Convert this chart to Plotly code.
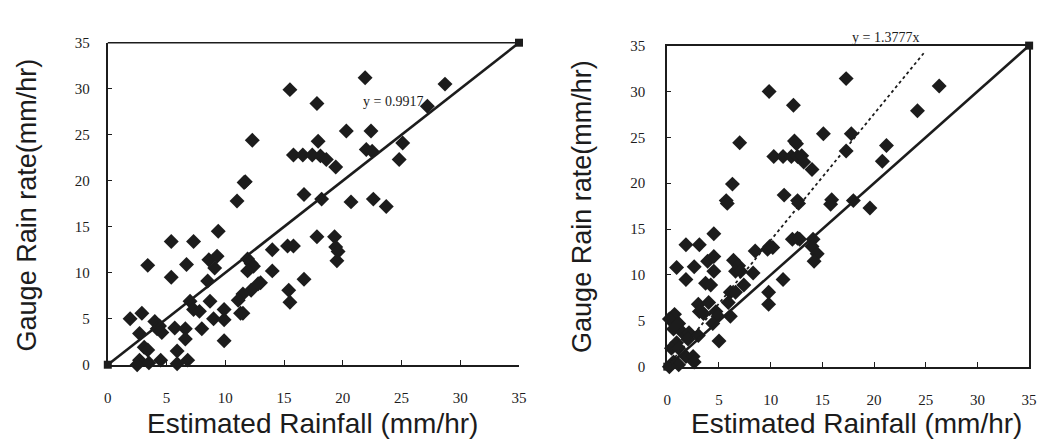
import plotly.graph_objects as go

# ---------------- data ----------------
left_x = [21.9, 15.5, 28.7, 17.8, 27.2, 12.3, 20.3, 22.4, 17.9, 22.0, 22.5, 25.1, 24.8,
          15.8, 16.6, 17.4, 18.1, 18.6, 19.4, 11.7, 16.7, 18.2, 20.7, 22.6, 23.7,
          17.8, 19.3, 19.4, 19.6, 19.5, 15.3, 15.8, 14.0, 14.0, 16.7, 15.4, 15.5,
          12.2, 13.0, 12.2, 11.5, 11.5, 11.0, 11.6, 9.4, 3.4, 5.4, 7.3, 5.4, 6.7,
          8.6, 9.3, 9.1, 8.5, 11.9, 12.4, 11.9, 12.8, 11.1, 11.3, 7.0, 7.3, 7.8,
          8.7, 8.0, 9.0, 9.9, 9.9, 9.9, 1.9, 2.9, 4.0, 4.4, 4.6, 4.2, 5.7, 6.6,
          6.6, 2.7, 3.1, 3.4, 2.7, 3.5, 2.5, 4.5, 5.9, 5.9, 6.8]
left_y = [31.2, 29.9, 30.5, 28.4, 28.1, 24.4, 25.4, 25.4, 24.3, 23.4, 23.2, 24.1, 22.3,
          22.8, 22.8, 22.8, 22.7, 22.3, 21.5, 19.9, 18.5, 18.0, 17.7, 18.0, 17.2,
          13.9, 13.9, 12.8, 12.3, 11.3, 12.9, 12.9, 12.5, 10.2, 9.3, 8.1, 6.8,
          11.0, 8.9, 8.1, 7.7, 5.6, 17.8, 19.8, 14.5, 10.8, 13.4, 13.4, 9.5, 10.9,
          11.4, 11.8, 10.5, 9.1, 11.5, 10.7, 10.2, 8.8, 7.0, 5.6, 6.9, 6.0, 5.8,
          6.9, 3.9, 5.0, 4.9, 6.0, 2.6, 5.0, 5.6, 4.7, 4.2, 3.5, 3.9, 4.0, 3.9,
          2.8, 3.4, 1.9, 1.6, 0.5, 0.2, 0.0, 0.5, 1.5, 0.1, 0.5]

right_x = [9.85, 12.2, 7.0, 12.5, 10.3, 11.2, 12.0, 12.6, 13.2, 14.0, 6.3, 11.3, 5.7,
           12.6, 17.3, 26.3, 24.2, 15.1, 17.8, 17.3, 21.2, 20.8, 12.3, 13.0, 15.9,
           12.7, 15.8, 18.0, 19.6, 12.6, 14.1, 14.0, 14.5, 14.2, 5.8, 4.5, 1.8, 3.1,
           0.9, 2.6, 1.8, 3.9, 4.5, 4.5, 3.7, 4.2, 6.4, 6.9, 6.6, 7.1, 6.1, 6.6,
           7.4, 5.9, 6.1, 8.3, 8.5, 9.7, 9.9, 10.2, 11.2, 9.8, 9.8, 12.1, 12.8,
           3.0, 4.0, 3.1, 3.5, 4.7, 4.9, 4.4, 5.0, 0.7, 0.2, 1.1, 0.6, 1.5, 2.1,
           2.0, 0.9, 0.4, 1.1, 1.8, 2.5, 0.6, 1.1, 2.6, 0.2, 3.0]
right_y = [30.0, 28.5, 24.4, 24.3, 22.9, 22.9, 22.9, 22.9, 22.3, 21.5, 19.9, 18.7, 18.1,
           18.1, 31.4, 30.6, 27.9, 25.4, 25.4, 23.5, 24.1, 22.4, 24.6, 23.0, 18.2,
           17.8, 17.7, 18.1, 17.3, 14.0, 13.9, 13.1, 12.3, 11.5, 17.8, 14.5, 13.3,
           13.3, 10.8, 10.9, 9.5, 11.5, 12.0, 10.4, 9.1, 8.9, 11.6, 11.0, 10.4, 10.4,
           8.1, 8.1, 8.9, 7.0, 5.5, 10.2, 12.6, 12.8, 13.1, 13.0, 9.5, 8.1, 6.8,
           13.9, 13.9, 6.8, 7.0, 6.0, 5.8, 6.0, 5.5, 4.7, 2.8, 5.7, 5.2, 4.7, 4.1,
           3.7, 3.7, 3.0, 2.6, 2.0, 2.0, 1.1, 1.1, 0.5, 0.2, 0.5, 0.0, 3.4]

ref_x = [0, 35]
ref_y = [0, 35]
slope_right = 1.3777
dotted_x = [0, 24.8]
dotted_y = [slope_right * v for v in dotted_x]

tick_vals = [0, 5, 10, 15, 20, 25, 30, 35]
left_eq = "y = 0.9917"
right_eq = "y = 1.3777x"
x_title = "Estimated Rainfall (mm/hr)"
y_title = "Gauge Rain rate(mm/hr)"

# ---------------- figure ----------------
W, H = 1047, 446
INK = "#1c1c1c"
fig = go.Figure()

diamond = dict(symbol="diamond", size=11.5, color=INK, line=dict(width=0))

fig.add_trace(go.Scatter(x=left_x, y=left_y, mode="markers", marker=diamond,
                         xaxis="x", yaxis="y", cliponaxis=False, showlegend=False))
fig.add_trace(go.Scatter(x=ref_x, y=ref_y, mode="lines+markers",
                         line=dict(color=INK, width=2.6),
                         marker=dict(symbol="square", size=8, color=INK),
                         xaxis="x", yaxis="y", cliponaxis=False, showlegend=False))

fig.add_trace(go.Scatter(x=right_x, y=right_y, mode="markers", marker=diamond,
                         xaxis="x2", yaxis="y2", cliponaxis=False, showlegend=False))
fig.add_trace(go.Scatter(x=dotted_x, y=dotted_y, mode="lines",
                         line=dict(color=INK, width=1.8, dash="dot"),
                         xaxis="x2", yaxis="y2", cliponaxis=False, showlegend=False))
fig.add_trace(go.Scatter(x=ref_x, y=ref_y, mode="lines+markers",
                         line=dict(color=INK, width=2.6),
                         marker=dict(symbol="square", size=8, color=INK),
                         xaxis="x2", yaxis="y2", cliponaxis=False, showlegend=False))

tickfont = dict(family="Liberation Serif", size=15, color=INK)


def xaxis(domain, mirror):
    return dict(domain=domain, range=[0, 35], tickvals=tick_vals, ticks="inside",
                ticklen=5, tickwidth=1, tickcolor=INK, showline=True, linecolor=INK,
                linewidth=2, mirror=mirror, showgrid=False, zeroline=False,
                tickfont=tickfont, ticklabelstandoff=18, fixedrange=True)


def yaxis(domain, anchor, mirror, standoff):
    return dict(domain=domain, range=[0, 35], tickvals=tick_vals, ticks="inside",
                ticklen=4, tickwidth=1, tickcolor=INK, showline=True, linecolor=INK,
                linewidth=2, mirror=mirror, showgrid=False, zeroline=False,
                tickfont=tickfont, ticklabelstandoff=standoff, anchor=anchor,
                fixedrange=True)


fig.update_layout(
    width=W, height=H,
    margin=dict(l=0, r=0, t=0, b=0),
    paper_bgcolor="white", plot_bgcolor="white",
    xaxis=dict(xaxis([105 / W, 521 / W], False), anchor="y"),
    yaxis=yaxis([1 - 370 / H, 1 - 36 / H], "x", False, 13),
    xaxis2=dict(xaxis([671 / W, 1037 / W], True), anchor="y2"),
    yaxis2=yaxis([1 - 372 / H, 1 - 39 / H], "x2", True, 17),
)

# top border of left panel
fig.add_shape(type="line", xref="x domain", yref="y domain", x0=0, x1=1, y0=1, y1=1,
              line=dict(color=INK, width=1.5))

# equation labels
fig.add_annotation(x=24.3, y=28.6, xref="x", yref="y", text=left_eq, showarrow=False,
                   font=dict(family="Liberation Serif", size=14, color=INK))
fig.add_annotation(x=892 / W, y=1 - 31 / H, xref="paper", yref="paper", text=right_eq,
                   showarrow=False, xanchor="center", yanchor="middle",
                   font=dict(family="Liberation Serif", size=14, color=INK))

# axis titles
title_font_x = dict(family="Liberation Sans", size=28, color=INK)
title_font_y = dict(family="Liberation Sans", size=27, color=INK)
for cx, cy in [(312, 431), (862, 431)]:
    fig.add_annotation(x=cx / W, y=1 - cy / H, xref="paper", yref="paper", text=x_title,
                       showarrow=False, font=title_font_x, xanchor="center", yanchor="middle",
                       borderpad=0)
for cx, cy in [(23, 204), (584, 206)]:
    fig.add_annotation(x=cx / W, y=1 - cy / H, xref="paper", yref="paper", text=y_title,
                       showarrow=False, font=title_font_y, textangle=-90,
                       xanchor="center", yanchor="middle")

fig.write_html(
    "out.html",
    config={"displayModeBar": False},
    post_script="document.body.style.margin='0';document.body.style.overflow='hidden';",
)
